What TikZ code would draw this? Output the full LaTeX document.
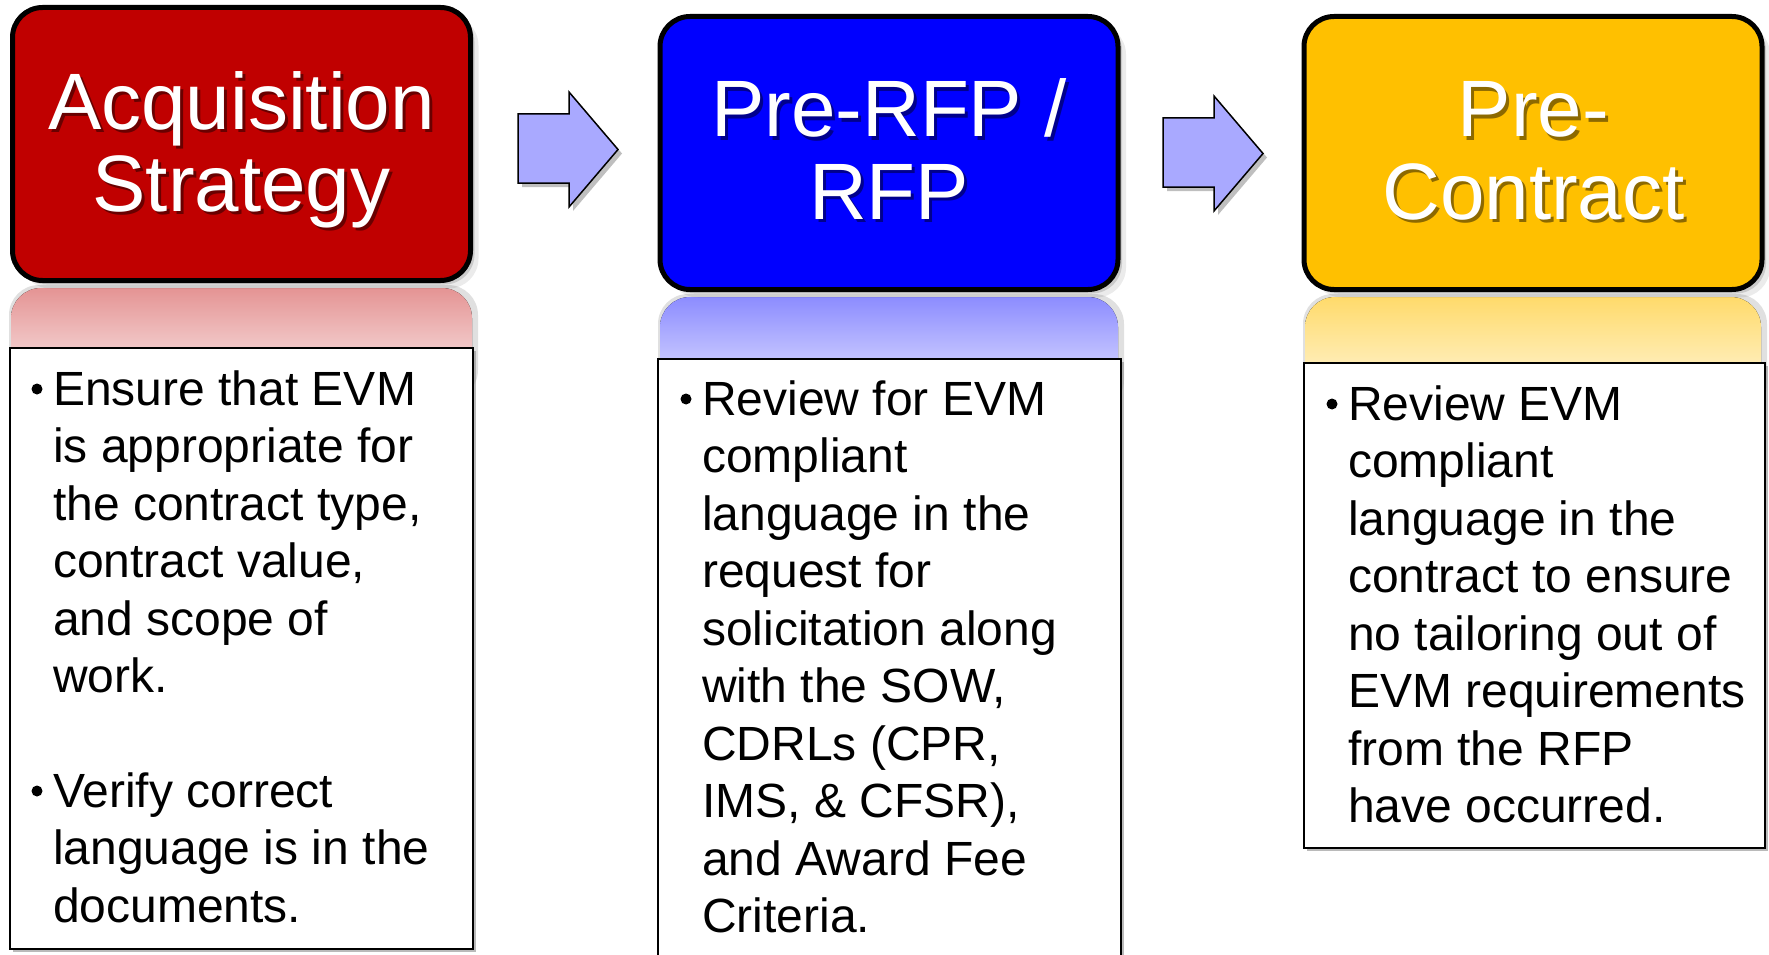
\documentclass[tikz,border=0pt]{standalone}
\usepackage{fontspec}
\setmainfont{Liberation Sans}
\definecolor{hred}{HTML}{C00000}
\definecolor{hblue}{HTML}{0000FF}
\definecolor{hyel}{HTML}{FFC000}
\definecolor{arrowfill}{HTML}{A9A9FF}
\begin{document}
\begin{tikzpicture}[x=1pt,y=-1pt,
  headbox/.style={draw=black, line width=5pt, rounded corners=30pt,
    minimum width=458pt, minimum height=273pt, inner sep=0pt,
    preaction={fill=black, opacity=.08, transform canvas={xshift=8pt,yshift=-8pt}},
    preaction={fill=black, opacity=.14, transform canvas={xshift=4pt,yshift=-4pt}}},
  headtext/.style={text=white, font=\fontsize{80}{82}\selectfont, inner sep=0pt, anchor=base},
  headshadow/.style={headtext, text=black, opacity=.45},
  textbox/.style={draw=black, line width=1.5pt, fill=white, inner sep=0pt,
    preaction={fill=black!45, opacity=.6, transform canvas={xshift=3pt,yshift=-3pt}}},
  bodytext/.style={font=\fontsize{48}{57.5}\selectfont, inner sep=0pt, anchor=base west},
  arrowblock/.style={fill=arrowfill, draw=black, line width=1.5pt, line join=miter},
  arrowshadow/.style={fill=black, opacity=.25},
  bul/.style={fill=black}
]
\useasboundingbox (0,0) rectangle (1769,955);
\clip (0,0) rectangle (1769,955);

% reflections
\fill[black, opacity=.12, rounded corners=30pt] (9,285) rectangle (478,400);
\fill[rounded corners=30pt, top color=hred!42!white, bottom color=hred!4!white]
  (11,288) rectangle (472,400);
\fill[black, opacity=.12, rounded corners=30pt] (658,294) rectangle (1124,410);
\fill[rounded corners=30pt, top color=hblue!45!white, bottom color=hblue!6!white]
  (660,297) rectangle (1118,410);
\fill[black, opacity=.12, rounded corners=30pt] (1303,294) rectangle (1767,414);
\fill[rounded corners=30pt, top color=hyel!58!white, bottom color=hyel!8!white]
  (1305,297) rectangle (1761,414);

% heading boxes
\node[headbox, fill=hred]  (h1) at (241.5,144) {};
\node[headbox, fill=hblue] (h2) at (889,153) {};
\node[headbox, fill=hyel]  (h3) at (1533,153) {};

% heading texts
\node[headshadow] (s1) at (244.5,132) {\parbox[t]{460pt}{\centering Acquisition\\Strategy}};
\node[headtext]   (t1) at (241.5,129) {\parbox[t]{460pt}{\centering Acquisition\\Strategy}};
\node[headshadow] (s2) at (892,140) {\parbox[t]{460pt}{\centering Pre-RFP /\\RFP}};
\node[headtext]   (t2) at (889,137) {\parbox[t]{460pt}{\centering Pre-RFP /\\RFP}};
\node[headshadow] (s3) at (1536.5,140) {\parbox[t]{460pt}{\centering Pre-\\Contract}};
\node[headtext]   (t3) at (1533.5,137) {\parbox[t]{460pt}{\centering Pre-\\Contract}};

% arrows
\fill[arrowshadow] (522,118) -- (573,118) -- (573,96) -- (622,153.5) -- (573,211) -- (573,187) -- (522,187) -- cycle;
\draw[arrowblock] (518,114) -- (569,114) -- (569,92) -- (618,149.5) -- (569,207) -- (569,183) -- (518,183) -- cycle;
\fill[arrowshadow] (1167,122) -- (1218,122) -- (1218,100) -- (1267,157.5) -- (1218,215) -- (1218,191) -- (1167,191) -- cycle;
\draw[arrowblock] (1163,118) -- (1214,118) -- (1214,96) -- (1263,153.5) -- (1214,211) -- (1214,187) -- (1163,187) -- cycle;

% text boxes
\node[textbox, minimum width=463pt, minimum height=601pt] (b1) at (241.5,648.5) {};
\node[textbox, minimum width=463pt, minimum height=641pt] (b2) at (889.5,679.5) {};
\node[textbox, minimum width=461pt, minimum height=485pt] (b3) at (1534.5,605.5) {};

% bullets
\fill[bul] (37,389) circle (5.5);
\fill[bul] (37,791) circle (5.5);
\fill[bul] (686,399) circle (5.5);
\fill[bul] (1332,404) circle (5.5);

% body texts
\node[bodytext] (p1) at (53,405) {\parbox[t]{415pt}{\raggedright
Ensure that EVM\\is appropriate for\\the contract type,\\contract value,\\and scope of\\work.}};
\node[bodytext] (p2) at (53,807) {\parbox[t]{415pt}{\raggedright
Verify correct\\language is in the\\documents.}};
\node[bodytext] (p3) at (702,415) {\parbox[t]{415pt}{\raggedright
Review for EVM\\compliant\\language in the\\request for\\solicitation along\\with the SOW,\\CDRLs (CPR,\\IMS, \& CFSR),\\and Award Fee\\Criteria.}};
\node[bodytext] (p4) at (1348,420) {\parbox[t]{415pt}{\raggedright
Review EVM\\compliant\\language in the\\contract to ensure\\no tailoring out of\\EVM requirements\\from the RFP\\have occurred.}};
\end{tikzpicture}
\end{document}
